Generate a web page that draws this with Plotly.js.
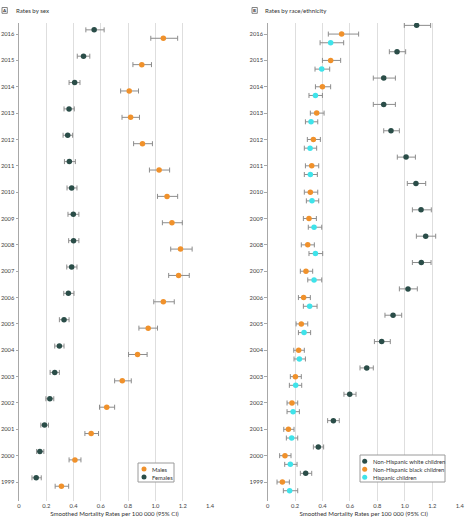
<!DOCTYPE html>
<html>
<head>
<meta charset="utf-8">
<script src="https://cdn.plot.ly/plotly-3.0.1.min.js"></script>
<style>
  html, body { margin: 0; padding: 0; background: #ffffff; }
  #chart { width: 467px; height: 526px; }
</style>
</head>
<body>
<div id="chart"></div>
<script>
// ---------- Data ----------
const years = [2016, 2015, 2014, 2013, 2012, 2011, 2010, 2009, 2008, 2007, 2006, 2005, 2004, 2003, 2002, 2001, 2000, 1999];

// Panel A: rates by sex
const maleRate = [1.058, 0.900, 0.808, 0.818, 0.905, 1.027, 1.085, 1.121, 1.184, 1.170, 1.058, 0.947, 0.869, 0.757, 0.643, 0.529, 0.410, 0.311];
const maleLo   = [0.966, 0.835, 0.745, 0.755, 0.840, 0.956, 1.015, 1.051, 1.112, 1.097, 0.988, 0.879, 0.803, 0.701, 0.590, 0.483, 0.367, 0.265];
const maleHi   = [1.163, 0.971, 0.876, 0.883, 0.978, 1.104, 1.163, 1.197, 1.269, 1.248, 1.138, 1.015, 0.939, 0.823, 0.701, 0.583, 0.454, 0.364];

const femaleRate = [0.551, 0.473, 0.408, 0.367, 0.357, 0.369, 0.386, 0.398, 0.400, 0.386, 0.362, 0.330, 0.296, 0.262, 0.226, 0.187, 0.153, 0.126];
const femaleLo   = [0.490, 0.427, 0.367, 0.330, 0.323, 0.333, 0.352, 0.359, 0.364, 0.350, 0.328, 0.296, 0.262, 0.228, 0.197, 0.160, 0.129, 0.095];
const femaleHi   = [0.624, 0.519, 0.447, 0.405, 0.393, 0.413, 0.425, 0.439, 0.439, 0.425, 0.403, 0.367, 0.330, 0.296, 0.255, 0.216, 0.182, 0.163];

// Panel B: rates by race/ethnicity
const whiteRate = [1.086, 0.943, 0.846, 0.846, 0.899, 1.009, 1.081, 1.118, 1.152, 1.120, 1.023, 0.914, 0.831, 0.722, 0.598, 0.479, 0.369, 0.277];
const whiteLo   = [0.996, 0.887, 0.770, 0.770, 0.846, 0.945, 1.018, 1.055, 1.084, 1.055, 0.960, 0.855, 0.778, 0.673, 0.556, 0.437, 0.333, 0.238];
const whiteHi   = [1.188, 1.006, 0.931, 0.931, 0.960, 1.077, 1.152, 1.193, 1.225, 1.191, 1.091, 0.977, 0.894, 0.770, 0.644, 0.522, 0.408, 0.321];

const blackRate = [0.539, 0.459, 0.399, 0.357, 0.333, 0.321, 0.311, 0.301, 0.292, 0.279, 0.262, 0.245, 0.226, 0.202, 0.177, 0.151, 0.126, 0.107];
const blackLo   = [0.442, 0.399, 0.348, 0.311, 0.289, 0.275, 0.267, 0.260, 0.245, 0.238, 0.224, 0.207, 0.190, 0.165, 0.141, 0.117, 0.087, 0.068];
const blackHi   = [0.663, 0.532, 0.459, 0.411, 0.384, 0.372, 0.365, 0.355, 0.340, 0.328, 0.311, 0.292, 0.267, 0.245, 0.219, 0.192, 0.170, 0.158];

const hispRate = [0.459, 0.394, 0.348, 0.316, 0.309, 0.311, 0.323, 0.338, 0.348, 0.338, 0.306, 0.265, 0.231, 0.204, 0.185, 0.175, 0.165, 0.160];
const hispLo   = [0.382, 0.345, 0.301, 0.275, 0.267, 0.267, 0.282, 0.296, 0.301, 0.292, 0.260, 0.224, 0.192, 0.158, 0.141, 0.136, 0.124, 0.114];
const hispHi   = [0.554, 0.452, 0.399, 0.365, 0.357, 0.362, 0.372, 0.394, 0.401, 0.394, 0.360, 0.313, 0.275, 0.248, 0.231, 0.219, 0.214, 0.219];

const xTickVals = [0, 0.2, 0.4, 0.6, 0.8, 1.0, 1.2, 1.4];
const xTickText = ['0', '0.2', '0.4', '0.6', '0.8', '1.0', '1.2', '1.4'];

const legendA = ['Males', 'Females'];
const legendB = ['Non-Hispanic white children', 'Non-Hispanic black children', 'Hispanic children'];
const xTitle = 'Smoothed Mortality Rates per 100 000 (95% CI)';

// ---------- Styling ----------
const FONT = 'Lato, "Open Sans", sans-serif';
const FS = 5.8;
const C_ORANGE = '#F0912B';
const C_DARK = '#2A4D48';
const C_CYAN = '#3FE3EA';
const C_ERR = '#8C8C8C';
const W = 467, H = 526;

function series(rate, lo, hi, offset, color, name, xa, ya) {
  return {
    type: 'scatter', mode: 'markers', name: name, showlegend: false,
    x: rate,
    y: years.map(y => y + offset),
    xaxis: xa, yaxis: ya,
    marker: { color: color, size: 5.5 },
    error_x: {
      type: 'data', symmetric: false,
      array: hi.map((h, i) => h - rate[i]),
      arrayminus: lo.map((l, i) => rate[i] - l),
      color: C_ERR, thickness: 1, width: 2.5
    },
    hoverinfo: 'x+name'
  };
}

const offA = 0.16, offB = 0.33;
const data = [
  series(maleRate, maleLo, maleHi, -offA, C_ORANGE, legendA[0], 'x', 'y'),
  series(femaleRate, femaleLo, femaleHi, +offA, C_DARK, legendA[1], 'x', 'y'),
  series(whiteRate, whiteLo, whiteHi, +offB, C_DARK, legendB[0], 'x2', 'y2'),
  series(blackRate, blackLo, blackHi, 0, C_ORANGE, legendB[1], 'x2', 'y2'),
  series(hispRate, hispLo, hispHi, -offB, C_CYAN, legendB[2], 'x2', 'y2')
];

const yDom = [(H - 501) / H, (H - 23) / H];

function xAxis(domain, anchor) {
  return {
    domain: domain, anchor: anchor, range: [0, 1.4],
    tickvals: xTickVals, ticktext: xTickText,
    showgrid: true, gridcolor: '#DEDEDE', gridwidth: 1,
    zeroline: false, showline: false, ticks: '',
    tickfont: { family: FONT, size: FS, color: '#444' },
    title: { text: xTitle, font: { family: FONT, size: 6.1, color: '#333' }, standoff: 3 },
    automargin: false, fixedrange: true
  };
}
function yAxis(anchor) {
  return {
    domain: yDom, anchor: anchor, range: [1998.28, 2016.42],
    tickvals: years, ticktext: years.map(String),
    showgrid: false, zeroline: false,
    showline: true, linecolor: '#A8A8A8', linewidth: 1,
    ticks: 'outside', ticklen: 2.5, tickcolor: '#A8A8A8',
    tickfont: { family: FONT, size: FS, color: '#444' },
    automargin: false, fixedrange: true
  };
}

// Legend boxes drawn as annotations + shapes (compact, like the original)
const shapes = [];
const annotations = [];
function px2x(px) { return px / W; }
function px2y(py) { return (H - py) / H; }

function legendBox(x0, y0, x1, y1, labels, colors, rowY, dotX, textX) {
  shapes.push({ type: 'rect', xref: 'paper', yref: 'paper', x0: px2x(x0), x1: px2x(x1), y0: px2y(y1), y1: px2y(y0),
    line: { color: '#9A9A9A', width: 1 }, fillcolor: '#FFFFFF', layer: 'above' });
  labels.forEach((lab, i) => {
    shapes.push({ type: 'circle', xref: 'paper', yref: 'paper', xsizemode: 'pixel', ysizemode: 'pixel',
      xanchor: px2x(dotX), yanchor: px2y(rowY[i]), x0: -2.5, x1: 2.5, y0: -2.5, y1: 2.5,
      fillcolor: colors[i], line: { width: 0 }, layer: 'above' });
    annotations.push({ text: lab, xref: 'paper', yref: 'paper', x: px2x(textX), y: px2y(rowY[i]),
      xanchor: 'left', yanchor: 'middle', showarrow: false, font: { family: FONT, size: FS, color: '#333' } });
  });
}
legendBox(138, 463, 174, 482, legendA, [C_ORANGE, C_DARK], [469, 477], 144, 149.5);
legendBox(360, 455, 445, 482, legendB, [C_DARK, C_ORANGE, C_CYAN], [461.3, 469.3, 477.2], 364.7, 370.5);

// Panel labels
function panelLabel(letter, bx0, bx1, text, tx) {
  shapes.push({ type: 'rect', xref: 'paper', yref: 'paper', x0: px2x(bx0), x1: px2x(bx1), y0: px2y(13.3), y1: px2y(7.5),
    line: { color: '#666', width: 0.8 }, fillcolor: 'rgba(0,0,0,0)' });
  annotations.push({ text: '<b>' + letter + '</b>', xref: 'paper', yref: 'paper', x: px2x((bx0 + bx1) / 2), y: px2y(10.5),
    xanchor: 'center', yanchor: 'middle', showarrow: false, font: { family: FONT, size: 4.5, color: '#333' } });
  annotations.push({ text: text, xref: 'paper', yref: 'paper', x: px2x(tx), y: px2y(10.5),
    xanchor: 'left', yanchor: 'middle', showarrow: false, font: { family: FONT, size: 6.1, color: '#333' } });
}
panelLabel('A', 2, 7.3, 'Rates by sex', 13.5);
panelLabel('B', 252, 257.3, 'Rates by race/ethnicity', 262.5);

const layout = {
  width: W, height: H,
  margin: { l: 0, r: 0, t: 0, b: 0 },
  paper_bgcolor: '#FFFFFF', plot_bgcolor: '#FFFFFF',
  font: { family: FONT, size: FS, color: '#333' },
  showlegend: false,
  xaxis: xAxis([19 / W, 210 / W], 'y'),
  yaxis: yAxis('x'),
  xaxis2: xAxis([267.7 / W, 459.7 / W], 'y2'),
  yaxis2: yAxis('x2'),
  shapes: shapes,
  annotations: annotations
};

Plotly.newPlot('chart', data, layout, { displayModeBar: false, staticPlot: true });
</script>
</body>
</html>
